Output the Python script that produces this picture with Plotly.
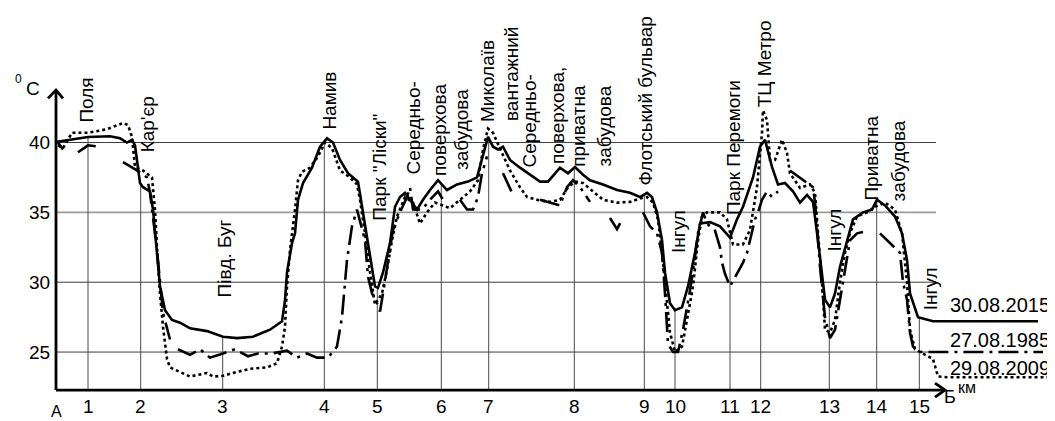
import numpy as np
import plotly.graph_objects as go

# ---------------- data ----------------
# x: position along the profile A -> B (chart units); the km marks are not evenly spaced
km_pos = [32, 84.7, 166.7, 268.3, 321.3, 385.3, 432.7, 518.3, 588.3, 619, 674, 704.7, 773.3, 820.7, 863.3]
km_labels = ["1", "2", "3", "4", "5", "6", "7", "8", "9", "10", "11", "12", "13", "14", "15"]
temp_ticks = [25, 30, 35, 40]
temp_labels = ["25", "30", "35", "40"]

# 30.08.2015 (solid)
dist_2015 = [1, 32, 54, 64, 71, 76, 79, 84, 87, 94,
             97, 101, 104, 109, 116, 124, 134, 151, 167, 181,
             197, 214, 226, 229, 231, 236, 239, 242, 247, 256,
             264, 271, 277, 284, 292, 302, 307, 314, 319, 322,
             327, 334, 339, 344, 349, 356, 361, 367, 374, 382,
             391, 401, 412, 421, 426, 432, 437, 442, 447, 454,
             464, 474, 484, 492, 499, 504, 512, 519, 527, 534,
             547, 561, 574, 584, 591, 596, 601, 606, 609, 614,
             619, 626, 632, 639, 644, 654, 664, 674, 681, 687,
             697, 704, 709, 716, 722, 729, 737, 744, 751, 757,
             762, 766, 769, 774, 779, 784, 791, 797, 807, 816,
             821, 829, 839, 846, 851, 854, 862, 877, 982]
temp_2015 = [40.05, 40.4, 40.45, 40.3, 40.0, 40.2, 39.8, 37.1, 36.8, 36.5,
             35.2, 32.3, 29.7, 28.0, 27.3, 27.1, 26.7, 26.5, 26.1, 26.0,
             26.1, 26.6, 27.2, 28.7, 30.7, 32.8, 33.5, 35.9, 37.1, 38.2,
             39.7, 40.3, 40.0, 38.75, 37.8, 37.2, 35.0, 32.1, 29.7, 29.6,
             30.7, 32.8, 35.4, 36.1, 36.4, 35.7, 35.2, 35.9, 36.6, 37.3,
             36.6, 37.0, 37.2, 37.5, 38.75, 40.4, 39.7, 39.5, 39.7, 38.75,
             38.2, 37.7, 37.2, 37.2, 37.8, 38.2, 37.8, 38.25, 37.7, 37.3,
             37.0, 36.6, 36.4, 36.1, 36.4, 36.1, 35.0, 33.0, 30.7, 28.5,
             28.0, 28.2, 29.7, 32.1, 34.2, 34.3, 34.0, 33.2, 34.5, 35.4,
             37.5, 39.7, 40.2, 38.25, 37.0, 37.1, 36.5, 35.7, 36.25, 35.75,
             33.0, 30.4, 28.75, 28.2, 29.2, 31.1, 33.0, 34.5, 35.0, 35.2,
             35.9, 35.5, 34.7, 33.5, 31.6, 29.2, 27.5, 27.2, 27.2]

# 29.08.2009 (dotted)
dist_2009 = [2, 7, 16, 32, 51, 67, 72, 76, 79, 87,
             96, 97, 99, 101, 104, 107, 111, 114, 124, 134,
             144, 151, 157, 167, 177, 194, 211, 221, 226, 229,
             231, 234, 239, 242, 246, 254, 262, 269, 276, 284,
             294, 301, 304, 309, 314, 319, 326, 331, 336, 341,
             349, 357, 364, 371, 379, 387, 394, 404, 414, 422,
             427, 432, 437, 446, 454, 464, 471, 481, 494, 504,
             512, 519, 527, 537, 547, 561, 574, 584, 591, 597,
             602, 606, 611, 614, 619, 626, 631, 637, 642, 646,
             651, 664, 671, 677, 687, 694, 701, 706, 707, 711,
             714, 719, 726, 731, 734, 744, 754, 759, 762, 766,
             769, 774, 779, 784, 789, 794, 801, 811, 819, 829,
             839, 846, 851, 854, 859, 869, 877, 882, 891, 997]
temp_2009 = [39.8, 39.6, 40.7, 40.7, 40.95, 41.4, 41.25, 40.4, 38.25, 38.0,
             37.5, 36.6, 35.2, 32.5, 29.2, 26.8, 24.5, 23.9, 23.6, 23.25,
             23.4, 23.5, 23.25, 23.3, 23.5, 23.8, 23.9, 24.2, 25.4, 26.8,
             29.7, 32.3, 35.2, 37.3, 37.9, 38.2, 39.0, 40.0, 39.6, 38.0,
             37.5, 37.0, 35.9, 33.5, 30.7, 28.4, 29.2, 30.9, 33.0, 34.7,
             36.1, 35.7, 34.2, 35.0, 35.7, 35.5, 35.3, 35.9, 36.5, 37.3,
             39.5, 41.0, 40.7, 39.25, 38.0, 36.8, 36.1, 35.9, 35.75, 35.9,
             36.8, 37.2, 37.1, 36.5, 35.9, 35.7, 35.75, 36.0, 36.1, 35.7,
             34.5, 32.1, 28.75, 26.4, 25.0, 25.4, 27.3, 29.7, 33.0, 34.7,
             35.0, 35.0, 34.5, 32.7, 32.7, 33.75, 36.8, 40.7, 42.3, 41.6,
             38.75, 38.75, 40.2, 39.25, 37.8, 36.75, 37.0, 36.4, 33.5, 30.0,
             26.6, 26.4, 27.3, 30.0, 32.1, 33.5, 34.7, 35.0, 35.4, 35.7,
             35.2, 33.5, 30.0, 26.6, 25.2, 24.8, 24.5, 23.25, 23.2, 23.2]

# 27.08.1985 (dash-dot, with gaps where the record is missing)
dist_1985 = [2, 7, None,
             22, 32, 44, None,
             67, 81, 91, 94, 101, 107, 114, None,
             122, 134, 144, 154, 167, 179, 192, 202, 216, 231, 241, 251, 261, 272,
             281, 286, 291, 296, 301, 309, 312, 316, 321, 324, 327, 332, 337, 344,
             351, 354, 357, 366, 374, 382, 387, None,
             404, 411, 417, 422, 426, 431, None,
             447, 457, None,
             484, 504, 511, 517, 524, 534, None,
             554, 561, 567, None,
             587, 594, 601, 606, 609, 612, 617, 622, 627, 634, 639, 642, 647, 651,
             659, 664, 666, 669, 674, 681, 687, 691, 699, 702, 706, 711, 716, 722, None,
             734, 744, 757, 759, 764, 769, 774, 779, 784, 789, 794, 801, 807, None,
             824, 834, 844, 847, 851, 854, 857, 864, 987]
temp_1985 = [40.0, 39.5, None,
             39.3, 39.8, 39.7, None,
             38.6, 38.0, 37.5, 36.4, 32.3, 27.8, 25.9, None,
             25.2, 24.8, 25.2, 24.6, 24.9, 25.2, 24.7, 24.9, 24.9, 25.1, 24.6, 24.9, 24.6, 24.6,
             25.4, 27.5, 31.6, 34.0, 35.2, 33.0, 30.4, 29.2, 28.5, 27.9, 29.2, 31.6, 33.75, 35.0,
             36.1, 36.8, 35.2, 35.2, 35.9, 36.5, 35.9, None,
             35.9, 35.2, 35.2, 36.1, 37.8, 39.0, None,
             37.8, 36.25, None,
             35.9, 35.5, 36.8, 37.3, 36.8, 35.75, None,
             34.6, 33.8, 34.6, None,
             35.0, 34.0, 33.5, 32.1, 29.2, 25.6, 25.0, 25.0, 26.6, 29.4, 31.8, 33.5, 35.0, 34.2,
             33.7, 32.5, 31.4, 30.6, 29.7, 30.6, 31.4, 32.1, 34.5, 35.0, 35.9, 36.5, 36.1, 36.5, None,
             38.0, 37.5, 36.8, 35.7, 31.1, 27.5, 26.0, 26.6, 28.75, 31.1, 33.0, 33.5, 33.6, None,
             33.5, 32.8, 32.1, 30.0, 28.75, 26.4, 25.4, 25.0, 25.0]

series_names = ["30.08.2015", "27.08.1985", "29.08.2009"]

place_names = ["Поля", "Кар'єр", "Півд. Буг", "Намив", "Парк \"Ліски\"",
               "Середньо-", "поверхова", "забудова",
               "Миколаїв", "вантажний",
               "Середньо-", "поверхова,", "приватна", "забудова",
               "Флотський бульвар", "Інгул", "Парк Перемоги", "ТЦ Метро",
               "Інгул", "Приватна", "забудова", "Інгул"]
place_x = [31, 91, 168, 274, 324,
           358, 384, 406,
           431, 455,
           474, 502, 523, 548,
           590, 623, 677, 708,
           779, 816, 842, 874]
place_t = [43.0, 41.3, 31.7, 43.0, 38.2,
           41.0, 40.9, 40.9,
           44.4, 44.9,
           41.5, 41.9, 41.2, 41.15,
           43.0, 33.6, 39.6, 45.6,
           33.7, 38.85, 38.65, 29.5]

# ---------------- layout constants ----------------
FONT = "Liberation Sans, Arial, sans-serif"
X_RANGE = [-48, 999]
Y_RANGE = [20.064, 49.63]
AXIS_T = 22.28      # level of the horizontal axis
Y_AXIS_TOP = 43.76  # arrow tip of the vertical axis
X_AXIS_END = 889    # arrow tip of the horizontal axis
GRID_END = 880
XLABEL_T = 21.07    # level of the km labels
YLABEL_X = -4       # right edge of the temperature labels

fig = go.Figure()

# horizontal grid lines
for t in temp_ticks:
    fig.add_shape(type="line", x0=0, x1=GRID_END, y0=t, y1=t, layer="below",
                  line=dict(color="#9a9a9a" if t == 35 else "#3c3c3c",
                            width=1.6 if t == 35 else 1))

# vertical drop lines from the axis up to the 2015 curve at the km marks
top_vals = np.interp(km_pos, dist_2015, temp_2015)
vx, vy = [], []
for xk, tk in zip(km_pos, top_vals):
    vx += [xk, xk, None]
    vy += [AXIS_T, tk, None]
fig.add_trace(go.Scatter(x=vx, y=vy, mode="lines", hoverinfo="skip",
                         line=dict(color="#4a4a4a", width=1)))

# series
fig.add_trace(go.Scatter(x=dist_2009, y=temp_2009, mode="lines", name=series_names[2],
                         line=dict(color="black", width=2.6, dash="3px,3px")))
fig.add_trace(go.Scatter(x=dist_1985, y=temp_1985, mode="lines", name=series_names[1],
                         connectgaps=False,
                         line=dict(color="black", width=2.6, dash="20px,6px,3px,6px")))
fig.add_trace(go.Scatter(x=dist_2015, y=temp_2015, mode="lines", name=series_names[0],
                         line=dict(color="black", width=2.6)))

# axes with open arrow heads
fig.add_trace(go.Scatter(x=[-8, 0, 7, None, 0, 0],
                         y=[Y_AXIS_TOP - 0.6, Y_AXIS_TOP, Y_AXIS_TOP - 0.6, None, Y_AXIS_TOP, AXIS_T],
                         mode="lines", hoverinfo="skip", line=dict(color="black", width=2.8)))
fig.add_trace(go.Scatter(x=[0, X_AXIS_END, None, X_AXIS_END - 10, X_AXIS_END, X_AXIS_END - 10],
                         y=[AXIS_T, AXIS_T, None, AXIS_T + 0.5, AXIS_T, AXIS_T - 0.5],
                         mode="lines", hoverinfo="skip", line=dict(color="black", width=2.8)))

# tick labels
for xk, lab in zip(km_pos, km_labels):
    fig.add_annotation(x=xk, y=XLABEL_T, text=lab, showarrow=False, xanchor="center", yanchor="middle",
                       font=dict(size=19, color="black", family=FONT))
for tk, lab in zip(temp_ticks, temp_labels):
    fig.add_annotation(x=YLABEL_X, y=tk, text=lab, showarrow=False, xanchor="right", yanchor="middle",
                       font=dict(size=19, color="black", family=FONT))

# place labels (vertical)
for name, x, t in zip(place_names, place_x, place_t):
    fig.add_annotation(x=x, y=t, text=name, textangle=-90, showarrow=False,
                       xanchor="center", yanchor="middle",
                       font=dict(size=19, color="black", family=FONT))

# series labels at the right
legend_t = [28.37, 25.86, 23.86]
for name, t in zip(series_names, legend_t):
    fig.add_annotation(x=944, y=t, text=name, showarrow=False, xanchor="center", yanchor="middle",
                       font=dict(size=20, color="black", family=FONT))

# axis captions
fig.add_annotation(x=-38, y=44.55, text="0", showarrow=False, font=dict(size=12, color="black", family=FONT))
fig.add_annotation(x=-23.5, y=43.87, text="C", showarrow=False, font=dict(size=19, color="black", family=FONT))
fig.add_annotation(x=0, y=20.75, text="А", showarrow=False, font=dict(size=16, color="black", family=FONT))
fig.add_annotation(x=894, y=21.78, text="Б", showarrow=False, font=dict(size=18, color="black", family=FONT))
fig.add_annotation(x=911, y=22.46, text="км", showarrow=False, font=dict(size=16, color="black", family=FONT))

fig.update_layout(
    width=1047, height=413,
    margin=dict(l=0, r=0, t=0, b=0, pad=0, autoexpand=False),
    paper_bgcolor="white", plot_bgcolor="white",
    showlegend=False,
    font=dict(family=FONT, color="black", size=19),
    xaxis=dict(range=X_RANGE, showticklabels=False, ticks="", showgrid=False,
               zeroline=False, showline=False, automargin=False, fixedrange=True),
    yaxis=dict(range=Y_RANGE, showticklabels=False, ticks="", showgrid=False,
               zeroline=False, showline=False, automargin=False, fixedrange=True),
)

fig.write_html("out.html")
